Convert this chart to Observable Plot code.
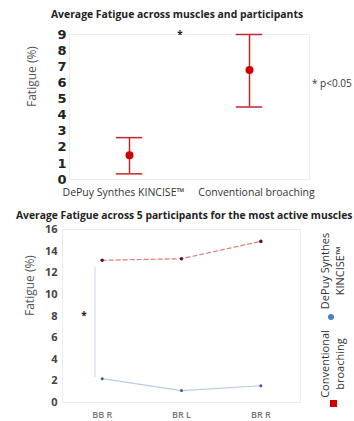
<!DOCTYPE html>
<html><head><meta charset="utf-8">
<script src="https://cdn.jsdelivr.net/npm/d3@7"></script>
<script src="https://cdn.jsdelivr.net/npm/@observablehq/plot@0.6"></script>
<style>
body{margin:0;background:#fff;font-family:"Open Sans",sans-serif}
#wrap{position:relative;width:354px;height:421px;overflow:hidden;background:#fff}
.abs{position:absolute;white-space:nowrap}
</style></head><body><div id="wrap"></div>
<script>
// ---- Top chart data ----
const groups = ["DePuy Synthes KINCISE™", "Conventional broaching"];
const meanFatigue = [1.5, 6.8];
const lowFatigue = [0.35, 4.5];
const highFatigue = [2.6, 9.0];
const yTicksTop = [0,1,2,3,4,5,6,7,8,9];
const sigTopX = [0.42];
const sigTopY = [9];

// ---- Bottom chart data ----
const muscles = ["BB R", "BR L", "BR R"];
const kinciseMuscle = [2.2, 1.1, 1.55];
const conventionalMuscle = [13.15, 13.3, 14.9];
const yTicksBottom = [0,2,4,6,8,10,12,14,16];
const sigBottomX = [-0.09];
const sigBottomY1 = [2.3];
const sigBottomY2 = [12.5];
const starBottomX = [-0.23];
const starBottomY = [8];

const legendLabels = ["DePuy Synthes\nKINCISE™", "Conventional\nbroaching"];

const wrap = document.getElementById("wrap");

const topData = groups.map((g, i) => ({i, mean: meanFatigue[i], lo: lowFatigue[i], hi: highFatigue[i]}));
const red = "#c1272d";

const chartTop = Plot.plot({
  width: 354, height: 200,
  marginTop: 34, marginBottom: 21, marginLeft: 69, marginRight: 45,
  style: {fontFamily: "Open Sans", background: "transparent", overflow: "visible"},
  x: {domain: [-0.5, 1.5]},
  y: {domain: [0, 9]},
  marks: [
    Plot.frame({stroke: "#ededed"}),
    Plot.axisY(yTicksTop, {tickSize: 0, tickPadding: 3, fontSize: 13, fontWeight: 700, fontFamily: "DejaVu Sans", fill: "#222", label: null}),
    Plot.axisX([0], {tickSize: 0, tickPadding: 9, dx: -6, tickFormat: i => groups[i], fontSize: 10.5, fill: "#333", label: null}),
    Plot.axisX([1], {tickSize: 0, tickPadding: 9, dx: 7, tickFormat: i => groups[i], fontSize: 10.5, fill: "#333", label: null}),
    Plot.text(["Fatigue (%)"], {frameAnchor: "left", dx: -37, rotate: -90, fontSize: 12, fill: "#555"}),
    Plot.ruleX(topData, {x: "i", y1: "lo", y2: "hi", stroke: red, strokeWidth: 1.5}),
    Plot.ruleY(topData, {x1: d => d.i - 0.11, x2: d => d.i + 0.11, y: "lo", stroke: red, strokeWidth: 1.5}),
    Plot.ruleY(topData, {x1: d => d.i - 0.11, x2: d => d.i + 0.11, y: "hi", stroke: red, strokeWidth: 1.5}),
    Plot.dot(topData, {x: "i", y: "mean", r: 4, fill: "#cc0000"}),
    Plot.text(sigTopX.map((x, i) => ({x, y: sigTopY[i]})), {x: "x", y: "y", text: () => "*", fontSize: 10, fontWeight: 700, fill: "#222"})
  ]
});
chartTop.style.position = "absolute"; chartTop.style.left = "0px"; chartTop.style.top = "0px";
wrap.appendChild(chartTop);

const kData = muscles.map((m, i) => ({i, v: kinciseMuscle[i]}));
const cData = muscles.map((m, i) => ({i, v: conventionalMuscle[i]}));

const chartBottom = Plot.plot({
  width: 354, height: 221,
  marginTop: 29, marginBottom: 19, marginLeft: 62, marginRight: 54,
  style: {fontFamily: "Open Sans", background: "transparent", overflow: "visible"},
  x: {domain: [-0.5, 2.5]},
  y: {domain: [0, 16]},
  marks: [
    Plot.frame({stroke: "#ededed"}),
    Plot.axisY(yTicksBottom, {tickSize: 0, tickPadding: 5, fontSize: 11, fontWeight: 700, fill: "#444", label: null}),
    Plot.axisX(muscles.map((_, i) => i), {tickSize: 0, tickPadding: 9, tickFormat: i => muscles[i], fontSize: 9, fontWeight: 600, fill: "#777", label: null}),
    Plot.text(["Fatigue (%)"], {frameAnchor: "left", dx: -32, rotate: -90, fontSize: 12, fill: "#555"}),
    Plot.ruleX(sigBottomX.map((x, i) => ({x, y1: sigBottomY1[i], y2: sigBottomY2[i]})), {x: "x", y1: "y1", y2: "y2", stroke: "#cdd6e8", strokeWidth: 1}),
    Plot.text(starBottomX.map((x, i) => ({x, y: starBottomY[i]})), {x: "x", y: "y", text: () => "*", fontSize: 10, fontWeight: 700, fill: "#222"}),
    Plot.line(cData, {x: "i", y: "v", stroke: "#e07a7a", strokeWidth: 1.2, strokeDasharray: "4,3"}),
    Plot.line(kData, {x: "i", y: "v", stroke: "#b9cce6", strokeWidth: 1.2}),
    Plot.dot(cData, {x: "i", y: "v", r: 1.8, fill: "#5a1a2a"}),
    Plot.dot(kData, {x: "i", y: "v", r: 1.5, fill: "#3a5a8c"})
  ]
});
chartBottom.style.position = "absolute"; chartBottom.style.left = "0px"; chartBottom.style.top = "200px";
wrap.appendChild(chartBottom);

// Titles and annotations
function addText(txt, css) {
  const d = document.createElement("div");
  d.className = "abs";
  d.textContent = txt;
  Object.assign(d.style, css);
  wrap.appendChild(d);
}
addText("Average Fatigue across muscles and participants", {left: "0px", width: "354px", textAlign: "center", top: "7px", fontSize: "10.4px", fontWeight: "700", color: "#222", lineHeight: "14px"});
addText("Average Fatigue across 5 participants for the most active muscles", {left: "16px", top: "208px", fontSize: "10.3px", fontWeight: "700", color: "#222", lineHeight: "14px"});
addText("* p<0.05", {left: "312px", top: "76px", fontSize: "10px", color: "#333", lineHeight: "14px"});

// Legend
const leg = d3.select(wrap).append("svg").attr("width", 354).attr("height", 421)
  .style("position", "absolute").style("left", 0).style("top", 0).style("pointer-events", "none");
const legendPos = [{x: 325, y: 271}, {x: 325, y: 364}];
legendLabels.forEach((lab, k) => {
  const g = leg.append("text")
    .attr("transform", `translate(${legendPos[k].x},${legendPos[k].y}) rotate(-90)`)
    .attr("text-anchor", "middle").attr("font-family", "Open Sans").attr("font-size", 11).attr("fill", "#333");
  lab.split("\n").forEach((line, j) => g.append("tspan").attr("x", 0).attr("y", j * 15).attr("dy", "0.32em").text(line));
});
leg.append("circle").attr("cx", 331).attr("cy", 317).attr("r", 3).attr("fill", "#4a7ec7");
leg.append("rect").attr("x", 330).attr("y", 400).attr("width", 7).attr("height", 7).attr("fill", "#d00000");
</script></body></html>
